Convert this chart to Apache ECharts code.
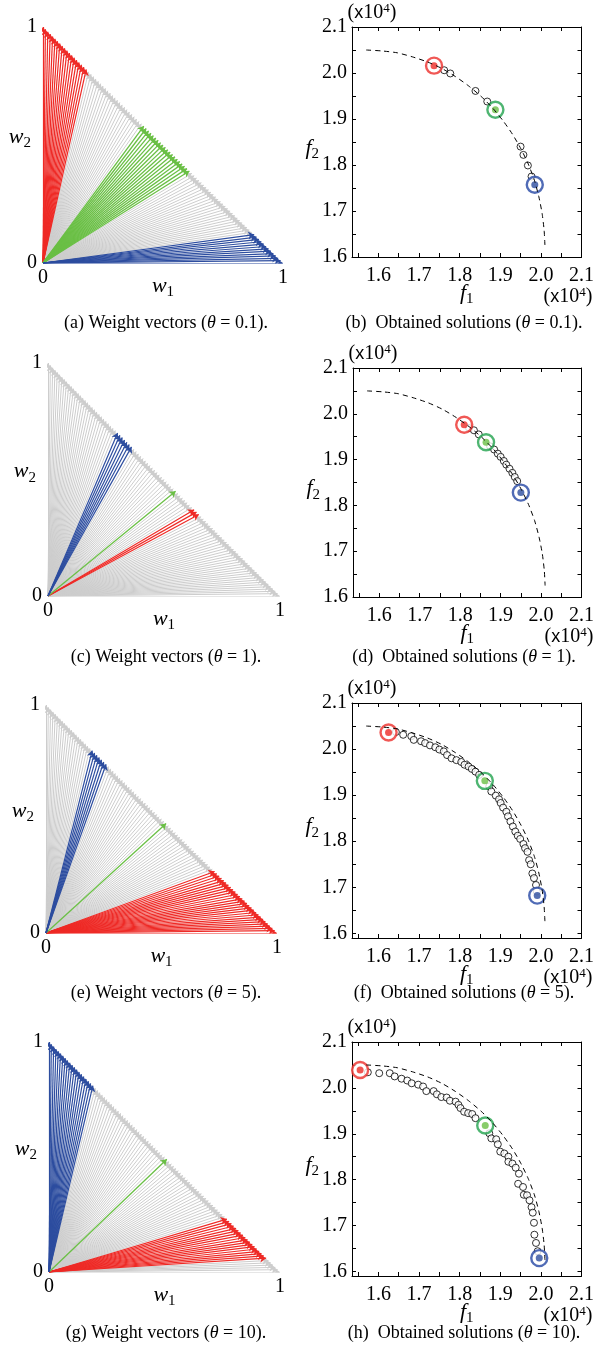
<!DOCTYPE html>
<html>
<head>
<meta charset="utf-8">
<script src="https://cdn.jsdelivr.net/npm/echarts@6/dist/echarts.min.js"></script>
<style>
  html, body { margin: 0; padding: 0; background: #fff; }
  #fig { width: 597px; height: 1352px; }
</style>
</head>
<body>
<div id="fig"></div>
<script>
// ---- data -------------------------------------------------------------
const thetas = ['0.1', '1', '5', '10'];

// weight vectors (w1, 1 - w1), w1 = 0, 0.01, ..., 1
const W1_DIVISIONS = 100;

// w1 ranges of highlighted weight vectors per theta
const vecRed   = [[0.00, 0.18], [0.63, 0.65], [0.73, 1.00], [0.77, 0.94]];
const vecGreen = [[0.42, 0.61], [0.55, 0.55], [0.52, 0.52], [0.51, 0.51]];
const vecBlue  = [[0.88, 1.00], [0.30, 0.36], [0.20, 0.26], [0.00, 0.19]];

// true Pareto front (dashed), units of 10^4
const frontF1 = [1.570, 1.608, 1.646, 1.684, 1.721, 1.756, 1.790, 1.822, 1.853, 1.881,
                 1.907, 1.930, 1.951, 1.969, 1.984, 1.995, 2.003, 2.008, 2.010];
const frontF2 = [2.050, 2.048, 2.044, 2.035, 2.024, 2.010, 1.992, 1.972, 1.949, 1.924,
                 1.896, 1.867, 1.835, 1.802, 1.767, 1.731, 1.695, 1.658, 1.625];

// obtained solutions (f1, f2)
const solTheta01 = [[1.762, 2.006], [1.777, 1.999], [1.839, 1.961], [1.868, 1.938],
                    [1.950, 1.840], [1.957, 1.822], [1.968, 1.799], [1.977, 1.775]];
const solTheta1 = [[1.822, 1.969], [1.834, 1.964], [1.846, 1.955], [1.874, 1.929],
                   [1.884, 1.922], [1.893, 1.913], [1.900, 1.906], [1.908, 1.897],
                   [1.914, 1.889], [1.922, 1.880], [1.929, 1.871], [1.935, 1.862],
                   [1.941, 1.853]];
const solTheta5 = [[1.643, 2.037], [1.661, 2.031], [1.681, 2.028], [1.687, 2.020],
                   [1.705, 2.017], [1.715, 2.013], [1.727, 2.008], [1.740, 2.004],
                   [1.750, 1.999], [1.761, 1.995], [1.769, 1.987], [1.780, 1.980],
                   [1.792, 1.976], [1.804, 1.972], [1.812, 1.966], [1.822, 1.962],
                   [1.830, 1.957], [1.839, 1.951], [1.848, 1.944], [1.873, 1.919],
                   [1.878, 1.908], [1.889, 1.899], [1.897, 1.891], [1.901, 1.883],
                   [1.907, 1.873], [1.915, 1.864], [1.919, 1.854], [1.925, 1.843],
                   [1.931, 1.832], [1.937, 1.821], [1.943, 1.812], [1.949, 1.805],
                   [1.957, 1.794], [1.961, 1.785], [1.967, 1.777], [1.971, 1.759],
                   [1.975, 1.750], [1.979, 1.730], [1.983, 1.720], [1.988, 1.705],
                   [1.990, 1.691]];
const solTheta10 = [[1.574, 2.034], [1.602, 2.032], [1.628, 2.032], [1.640, 2.025],
                    [1.657, 2.020], [1.671, 2.016], [1.682, 2.010], [1.698, 2.007],
                    [1.710, 2.003], [1.718, 1.993], [1.736, 1.993], [1.744, 1.986],
                    [1.755, 1.980], [1.768, 1.979], [1.776, 1.972], [1.790, 1.970],
                    [1.797, 1.963], [1.802, 1.956], [1.811, 1.948], [1.821, 1.945],
                    [1.831, 1.943], [1.839, 1.934], [1.873, 1.901], [1.878, 1.890],
                    [1.890, 1.888], [1.894, 1.877], [1.900, 1.861], [1.910, 1.857],
                    [1.920, 1.850], [1.920, 1.839], [1.930, 1.835], [1.938, 1.826],
                    [1.946, 1.813], [1.944, 1.791], [1.956, 1.784], [1.958, 1.767],
                    [1.966, 1.766], [1.972, 1.755], [1.977, 1.740], [1.980, 1.728],
                    [1.983, 1.706], [1.984, 1.680], [1.988, 1.662], [1.992, 1.644]];
const solutions = [solTheta01, solTheta1, solTheta5, solTheta10];

// solutions of the highlighted weight vectors
const pickRed   = [[1.737, 2.016], [1.810, 1.976], [1.625, 2.036], [1.555, 2.039]];
const pickGreen = [[1.888, 1.920], [1.864, 1.938], [1.862, 1.931], [1.863, 1.918]];
const pickBlue  = [[1.985, 1.757], [1.950, 1.828], [1.991, 1.682], [1.996, 1.629]];

// axis ticks
const f1Ticks  = [1.55, 1.6, 1.65, 1.7, 1.75, 1.8, 1.85, 1.9, 1.95, 2.0, 2.05, 2.1];
const f2Ticks  = [1.6, 1.65, 1.7, 1.75, 1.8, 1.85, 1.9, 1.95, 2.0, 2.05, 2.1];
const f1Labels = [1.6, 1.7, 1.8, 1.9, 2.0, 2.1];
const f2Labels = [1.6, 1.7, 1.8, 1.9, 2.0, 2.1];
const wLabels  = [0, 1];

// ---- layout ------------------------------------------------------------
const SERIF = '"Liberation Serif", "DejaVu Serif", serif';
const RED = '#ee2a26', GREEN = '#6abf45', BLUE = '#2d4d9f', GRAY = '#cdcdcd';
const RING_RED = '#ec2e2a', RING_GREEN = '#22a24e', RING_BLUE = '#2446a4';

const leftBoxes  = [[43, 27, 240, 236], [48, 363, 232, 233], [46, 705, 231, 228], [49, 1042, 231, 230]];
const rightBoxes = [[352, 27, 235, 230], [353, 368, 234, 229], [352, 703, 234, 235], [352, 1042, 234, 234]];
const f1Range = [1.535, 2.1];
const f2Min = [1.6, 1.6, 1.59, 1.59];
const captionY = [323, 657, 993, 1333];
const letters = [['a', 'b'], ['c', 'd'], ['e', 'f'], ['g', 'h']];

const nameRich = {
  i: { fontFamily: SERIF, fontStyle: 'italic', fontSize: 22, lineHeight: 28, color: '#000' },
  s: { fontFamily: SERIF, fontSize: 15, lineHeight: 15, verticalAlign: 'bottom', color: '#000' }
};

const grids = [], xAxes = [], yAxes = [], series = [], graphics = [];

function inRange(w, r) { return w >= r[0] - 1e-9 && w <= r[1] + 1e-9; }

function vectorLines(filter) {
  const out = [];
  for (let i = 0; i <= W1_DIVISIONS; i++) {
    const w1 = i / W1_DIVISIONS;
    if (filter(w1)) out.push({ coords: [[0, 0], [w1, 1 - w1]] });
  }
  return out;
}

for (let p = 0; p < 4; p++) {
  // ----- weight vector panel
  const lb = leftBoxes[p];
  let g = grids.length;
  grids.push({ left: lb[0], top: lb[1], width: lb[2], height: lb[3], containLabel: false });
  const lx = xAxes.length, ly = yAxes.length;
  xAxes.push({
    gridIndex: g, type: 'value', min: 0, max: 1,
    axisLine: { show: false }, axisTick: { show: false }, splitLine: { show: false },
    axisLabel: { customValues: wLabels, fontFamily: SERIF, fontSize: 20, color: '#000', margin: 5 },
    name: '{i|w}{s|1}', nameLocation: 'middle', nameGap: 9, nameMoveOverlap: false,
    nameTextStyle: { rich: nameRich }
  });
  yAxes.push({
    gridIndex: g, type: 'value', min: 0, max: 1,
    axisLine: { show: false }, axisTick: { show: false }, splitLine: { show: false },
    axisLabel: { customValues: wLabels, fontFamily: SERIF, fontSize: 20, color: '#000', margin: 6 },
    name: '{i|w}{s|2}', nameLocation: 'middle', nameGap: 12, nameRotate: 0, nameMoveOverlap: false,
    nameTextStyle: { rich: nameRich, padding: [0, 0, 16, 0] }
  });
  const red = vecRed[p], green = vecGreen[p], blue = vecBlue[p];
  const vecSeries = [
    { color: GRAY, width: 1, data: vectorLines(w => !inRange(w, red) && !inRange(w, green) && !inRange(w, blue)) },
    { color: RED, width: 1.2, data: vectorLines(w => inRange(w, red)) },
    { color: GREEN, width: 1.3, data: vectorLines(w => inRange(w, green)) },
    { color: BLUE, width: 1.2, data: vectorLines(w => inRange(w, blue)) }
  ];
  vecSeries.forEach(vs => {
    series.push({
      type: 'lines', coordinateSystem: 'cartesian2d', xAxisIndex: lx, yAxisIndex: ly,
      symbol: ['none', 'arrow'], symbolSize: 6, silent: true, animation: false,
      lineStyle: { color: vs.color, width: vs.width, opacity: 1 },
      data: vs.data
    });
  });

  // ----- obtained solutions panel
  const rb = rightBoxes[p];
  g = grids.length;
  grids.push({ left: rb[0], top: rb[1], width: rb[2], height: rb[3], containLabel: false });
  const rx = xAxes.length, ry = yAxes.length;
  const boxLine = { show: true, onZero: false, lineStyle: { color: '#000', width: 1 } };
  const tickX = { show: true, inside: true, length: 4, customValues: f1Ticks, lineStyle: { color: '#000', width: 1 } };
  const tickY = { show: true, inside: true, length: 4, customValues: f2Ticks, lineStyle: { color: '#000', width: 1 } };
  xAxes.push({
    gridIndex: g, type: 'value', position: 'bottom', min: f1Range[0], max: f1Range[1],
    axisLine: boxLine, axisTick: tickX, splitLine: { show: false },
    axisLabel: { customValues: f1Labels, formatter: v => v.toFixed(1), fontFamily: SERIF, fontSize: 20, color: '#000', margin: 9 },
    name: '{i|f}{s|1}', nameLocation: 'middle', nameGap: 22, nameMoveOverlap: false,
    nameTextStyle: { rich: nameRich }
  });
  xAxes.push({
    gridIndex: g, type: 'value', position: 'top', min: f1Range[0], max: f1Range[1],
    axisLine: boxLine, axisTick: tickX, splitLine: { show: false }, axisLabel: { show: false }
  });
  yAxes.push({
    gridIndex: g, type: 'value', position: 'left', min: f2Min[p], max: 2.1,
    axisLine: boxLine, axisTick: tickY, splitLine: { show: false },
    axisLabel: { customValues: f2Labels, formatter: v => v.toFixed(1), fontFamily: SERIF, fontSize: 20, color: '#000', margin: 5 },
    name: '{i|f}{s|2}', nameLocation: 'middle', nameGap: 33, nameRotate: 0, nameMoveOverlap: false,
    nameTextStyle: { rich: nameRich, padding: [12, 0, 0, 0] }
  });
  yAxes.push({
    gridIndex: g, type: 'value', position: 'right', min: f2Min[p], max: 2.1,
    axisLine: boxLine, axisTick: tickY, splitLine: { show: false }, axisLabel: { show: false }
  });

  series.push({
    type: 'line', xAxisIndex: rx, yAxisIndex: ry, showSymbol: false, smooth: 0.2,
    silent: true, animation: false,
    lineStyle: { color: '#000', width: 1, type: [5, 4] },
    data: frontF1.map((f, i) => [f, frontF2[i]])
  });
  series.push({
    type: 'scatter', xAxisIndex: rx, yAxisIndex: ry, symbol: 'circle', symbolSize: 7,
    silent: true, animation: false,
    itemStyle: { color: '#fff', borderColor: '#000', borderWidth: 1 },
    data: solutions[p]
  });
  [[pickRed[p], RING_RED, RED], [pickGreen[p], RING_GREEN, GREEN], [pickBlue[p], RING_BLUE, BLUE]].forEach(pk => {
    series.push({
      type: 'scatter', xAxisIndex: rx, yAxisIndex: ry, symbol: 'circle', symbolSize: 16,
      silent: true, animation: false,
      itemStyle: { color: '#fff', borderColor: pk[1], borderWidth: 2.4 },
      data: [pk[0]]
    });
    series.push({
      type: 'scatter', xAxisIndex: rx, yAxisIndex: ry, symbol: 'circle', symbolSize: 7,
      silent: true, animation: false,
      itemStyle: { color: pk[2] },
      data: [pk[0]]
    });
  });

  // scale factor labels
  const scaleRich = {
    a: { fontFamily: SERIF, fontSize: 20, lineHeight: 22, color: '#000' },
    x: { fontFamily: '"Liberation Sans", sans-serif', fontSize: 18, lineHeight: 22, color: '#000' },
    p: { fontFamily: SERIF, fontSize: 13, lineHeight: 12, verticalAlign: 'top', color: '#000' }
  };
  graphics.push({
    type: 'text', x: rb[0] + 20, y: rb[1] - 14, silent: true,
    style: { text: '{a|(}{x|x}{a|10}{p|4}{a|)}', rich: scaleRich, align: 'center', verticalAlign: 'middle', textAlign: 'center', textVerticalAlign: 'middle' }
  });
  graphics.push({
    type: 'text', x: rb[0] + 216, y: rb[1] + rb[3] + 40, silent: true,
    style: { text: '{a|(}{x|x}{a|10}{p|4}{a|)}', rich: scaleRich, align: 'center', verticalAlign: 'middle', textAlign: 'center', textVerticalAlign: 'middle' }
  });

  // captions
  const capRich = {
    c: { fontFamily: SERIF, fontSize: 18, color: '#000' },
    t: { fontFamily: SERIF, fontSize: 18, fontStyle: 'italic', color: '#000' }
  };
  graphics.push({
    type: 'text', x: 166, y: captionY[p], silent: true,
    style: { text: '{c|(' + letters[p][0] + ') Weight vectors (}{t|θ}{c| = ' + thetas[p] + ').}', rich: capRich,
             align: 'center', verticalAlign: 'middle', textAlign: 'center', textVerticalAlign: 'middle' }
  });
  graphics.push({
    type: 'text', x: 464, y: captionY[p], silent: true,
    style: { text: '{c|(' + letters[p][1] + ')  Obtained solutions (}{t|θ}{c| = ' + thetas[p] + ').}', rich: capRich,
             align: 'center', verticalAlign: 'middle', textAlign: 'center', textVerticalAlign: 'middle' }
  });
}

const chart = echarts.init(document.getElementById('fig'), null, { renderer: 'canvas' });
chart.setOption({
  backgroundColor: '#fff',
  animation: false,
  grid: grids,
  xAxis: xAxes,
  yAxis: yAxes,
  series: series,
  graphic: graphics
});
</script>
</body>
</html>
